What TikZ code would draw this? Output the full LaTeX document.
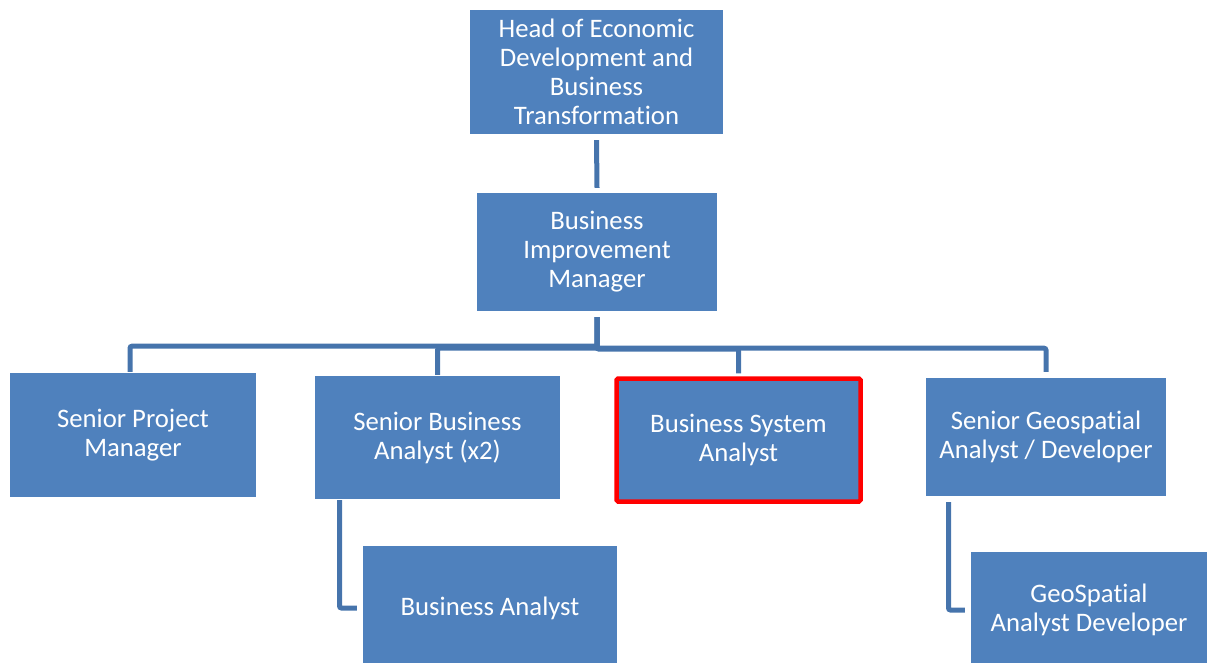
\documentclass[tikz,border=0pt]{standalone}
\usepackage{fontspec}
\setmainfont{Carlito}[Ligatures=NoCommon]
\definecolor{boxblue}{RGB}{79,129,189}
\definecolor{linkblue}{RGB}{70,116,172}
\definecolor{hilite}{RGB}{255,0,0}
\begin{document}
\begin{tikzpicture}[x=1pt,y=-1pt,
  role/.style={fill=boxblue, draw=none, text=white, align=center, inner sep=0pt,
    font=\fontsize{26.7}{29}\selectfont},
  link/.style={draw=linkblue, line width=5pt, rounded corners=2pt},
  focus/.style={draw=hilite, line width=4.5pt, rounded corners=1.5pt}]
\useasboundingbox (0,0) rectangle (1207,662);
\clip (0,0) rectangle (1207,662);

% top two levels
\node[role, minimum width=253pt, minimum height=124pt] (head) at (596.5,72)
  {Head of Economic\\Development and\\Business\\Transformation};
\node[role, minimum width=240pt, minimum height=118pt] (bim) at (597,252)
  {Business\\Improvement\\Manager};

% direct reports
\node[role, minimum width=246pt, minimum height=124pt] (spm) at (133,435)
  {Senior Project\\Manager};
\node[role, minimum width=245pt, minimum height=123pt] (sba) at (437.5,437.5)
  {Senior Business\\Analyst (x2)};
\node[role, focus, minimum width=244pt, minimum height=123pt] (bsa) at (738.5,440)
  {Business System\\Analyst};
\node[role, minimum width=240pt, minimum height=118pt] (sga) at (1046,437)
  {Senior Geospatial\\Analyst / Developer};

% third level
\node[role, minimum width=254pt, minimum height=124pt] (ba) at (490,608)
  {Business Analyst};
\node[role, minimum width=236pt, minimum height=116pt] (gad) at (1089,610)
  {GeoSpatial\\Analyst Developer};

% connectors
\draw[link] ([yshift=-6pt]head.south) -- ([yshift=5pt]bim.north);
\draw[link] ([yshift=-6pt]bim.south) -- ++(0,29) -| ([xshift=-3pt,yshift=1pt]spm.north);
\draw[link] ([yshift=-6pt]bim.south) -- ++(0,31) -| ([yshift=1pt]sba.north);
\draw[link] ([yshift=-6pt]bim.south) -- ++(0,32) -| ([yshift=3pt]bsa.north);
\draw[link] ([yshift=-6pt]bim.south) -- ++(0,31) -| ([yshift=6pt]sga.north);
\draw[link] ([xshift=-98pt,yshift=-1pt]sba.south) |- ([xshift=-6pt]ba.west);
\draw[link] ([xshift=-97.5pt,yshift=-6pt]sga.south) |- ([xshift=-6pt]gad.west);
\end{tikzpicture}
\end{document}
